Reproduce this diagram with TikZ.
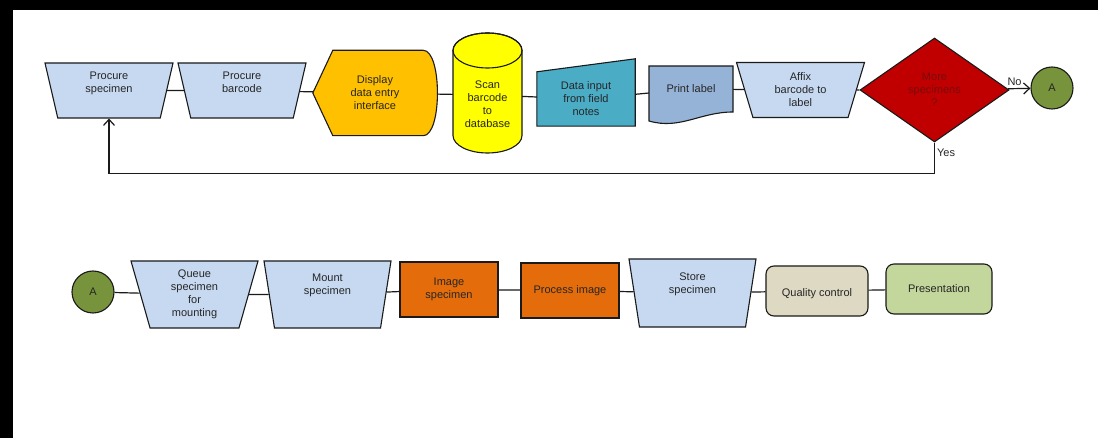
\documentclass[tikz,border=0pt]{standalone}
\usepackage{fontspec}
\setmainfont{Liberation Sans}
\usetikzlibrary{shapes.geometric,arrows.meta,calc}
\pgfdeclarelayer{background}
\pgfsetlayers{background,main}

\definecolor{tpzblue}{HTML}{C6D9F1}
\definecolor{dspyellow}{HTML}{FFC000}
\definecolor{cylyellow}{HTML}{FFFF00}
\definecolor{datteal}{HTML}{4BACC6}
\definecolor{prtblue}{HTML}{95B3D7}
\definecolor{decred}{HTML}{C00000}
\definecolor{dectext}{HTML}{7A0A0A}
\definecolor{pagegreen}{HTML}{77933C}
\definecolor{imgorange}{HTML}{E46C0A}
\definecolor{qcbeige}{HTML}{DDD9C3}
\definecolor{presgreen}{HTML}{C3D69B}
\definecolor{txtgray}{HTML}{262626}
\definecolor{linegray}{HTML}{1A1A1A}

% text block moved up or down inside its shape, size kept
\newcommand{\lifted}[2]{\raisebox{#1}[\height][\depth]{\begin{tabular}{@{}c@{}}#2\end{tabular}}}

\begin{document}
\begin{tikzpicture}[%
    x=1pt, y=-1pt,               % pixel-like units, y grows downwards
    ]
\useasboundingbox (0,0) rectangle (1098,438);
% -------------------------------------------------
% Box styles
\tikzset{
  node font=\fontsize{11}{13}\selectfont,
  base/.style={align=center, text=txtgray, inner sep=1pt},
  boxed/.style={base, draw=linegray, line width=1.1pt},
  tpz/.style={boxed, trapezium, shape border rotate=180, trapezium stretches body=true,
    fill=tpzblue, minimum width=128pt, minimum height=55pt, trapezium angle=65.5},
  tpzlow/.style={tpz, minimum width=127pt, minimum height=67pt, trapezium angle=69.5},
  proc/.style={boxed, rectangle, fill=imgorange, minimum width=98pt, minimum height=55pt},
  term/.style={boxed, rectangle, rounded corners=8pt, minimum height=50pt},
  test/.style={boxed, diamond, fill=decred, text=dectext, minimum width=149pt, minimum height=104pt},
  onpage/.style={boxed, circle, fill=pagegreen, minimum size=42pt},
  % outline drawn afterwards on the background layer
  freeform/.style={base, minimum height=20pt},
  shapeline/.style={draw=linegray, line width=1.1pt},
  lbl/.style={text=txtgray, inner sep=2pt},
  % -------------------------------------------------
  % Connector line styles
  conn/.style={draw=linegray, line width=1.2pt},
  arr/.style={conn, -{Straight Barb[length=6pt,width=11pt]}},
}
% -------------------------------------------------
% Top row
\node [tpz] (ps) at (109,90.5) {\lifted{7.5pt}{Procure\\specimen}};
\node [tpz] (pb) at (242,90.5) {\lifted{7.5pt}{Procure\\barcode}};
\node [freeform, minimum width=124pt, minimum height=85pt] (dsp) at (375,93) {Display\\data entry\\interface};
\node [freeform, minimum width=69pt] (scan) at (487.5,95) {\lifted{-10pt}{Scan\\barcode\\to\\database}};
\node [freeform, minimum width=98pt, minimum height=54pt] (dat) at (586,99) {Data input\\from field\\notes};
\node [freeform, minimum width=84pt] (prt) at (691,89) {Print label};
\node [tpz] (afx) at (800.5,90) {Affix\\barcode to\\label};
\node [test] (dec) at (934.5,90) {More\\specimens\\?};
\node [onpage] (a1) at (1052,88) {A};
% -------------------------------------------------
% Bottom row
\node [onpage] (a2) at (93,292) {A};
\node [tpzlow] (que) at (194.5,294.5) {Queue\\specimen\\for\\mounting};
\node [tpzlow] (mnt) at (327.5,294.5) {\lifted{9.5pt}{Mount\\specimen}};
\node [proc] (img) at (449,289.5) {Image\\specimen};
\node [proc] (pro) at (570,290.5) {Process image};
\node [tpzlow, minimum height=68pt] (sto) at (692.5,293) {\lifted{9pt}{Store\\specimen}};
\node [term, fill=qcbeige, minimum width=102pt] (qc) at (817,291) {\lifted{-3pt}{Quality control}};
\node [term, fill=presgreen, minimum width=106pt] (pre) at (939,289) {Presentation};
% -------------------------------------------------
% Plain lines between neighbouring boxes
\foreach \a/\b in {ps/pb, pb/dsp, dsp/scan, scan/dat, dat/prt, prt/afx, afx/dec,
                   a2/que, que/mnt, mnt/img, img/pro, pro/sto, sto/qc, qc/pre}
  \draw [conn] (\a) -- (\b);
% Exits of the test
\draw [arr] (dec) -- node [lbl, above, pos=0.3] {No} (a1);
\draw [arr] (dec.south) -- node [lbl, right, pos=0.32] {Yes} ++(0,31) -| (ps);
% -------------------------------------------------
% Page and the hand-made outlines
\begin{pgfonlayer}{background}
  \fill [black] (0,0) rectangle (1098,438);
  \fill [white] (13,10) rectangle (1098,438);
  % display
  \draw [shapeline, fill=dspyellow] (dsp.west) -- ($(dsp.north west)+(20,0)$)
    -- ($(dsp.north east)+(-14,0)$) .. controls ($(dsp.north east)+(5,0)$) and ($(dsp.south east)+(5,0)$)
    .. ($(dsp.south east)+(-14,0)$) -- ($(dsp.south west)+(20,0)$) -- cycle;
  % database
  \draw [shapeline, fill=cylyellow] ($(scan.center)+(-34.5,-44.5)$) -- ($(scan.center)+(-34.5,40.5)$)
    arc [start angle=180, end angle=360, x radius=34.5pt, y radius=17.5pt]
    -- ($(scan.center)+(34.5,-44.5)$)
    arc [start angle=0, end angle=180, x radius=34.5pt, y radius=17.5pt] -- cycle;
  \draw [shapeline] ($(scan.center)+(0,-44.5)$) ellipse [x radius=34.5pt, y radius=17.5pt];
  % manual input
  \draw [shapeline, fill=datteal] (dat.south west) -- (dat.north west)
    -- ($(dat.north east)+(0,-13)$) -- (dat.south east) -- cycle;
  % document
  \draw [shapeline, fill=prtblue] ($(prt.center)+(-42,-23)$) -- ($(prt.center)+(42,-23)$)
    -- ($(prt.center)+(42,23)$) .. controls ($(prt.center)+(9,23)$) and ($(prt.center)+(-11,41)$)
    .. ($(prt.center)+(-42,32)$) -- cycle;
\end{pgfonlayer}
\end{tikzpicture}
\end{document}
